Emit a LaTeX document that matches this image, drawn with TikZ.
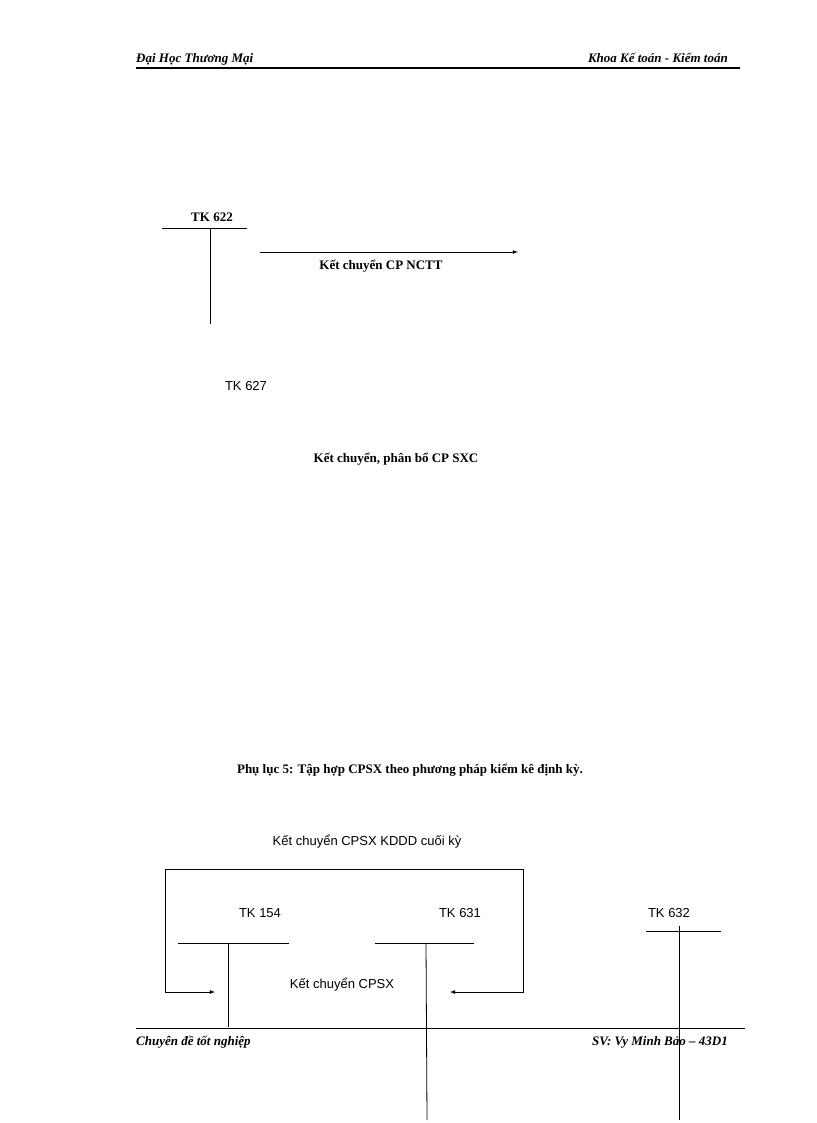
\documentclass[tikz,border=0pt]{standalone}
\usepackage{fontspec}
\setmainfont{Liberation Serif}
\newfontfamily\tah{Liberation Sans}
\begin{document}
\begin{tikzpicture}[x=1pt,y=-1pt,
  hd/.style={font=\bfseries\itshape\fontsize{13}{15}\selectfont,inner sep=0},
  bt/.style={font=\bfseries\fontsize{13}{15}\selectfont,inner sep=0},
  st/.style={font=\tah\fontsize{13}{15}\selectfont,inner sep=0},
  ln/.style={line width=0.8pt},
  ar/.style={ln,-latex}]
\useasboundingbox (0,0) rectangle (816,1123);
\node[hd,anchor=base west] (h1) at (136,63) {Đại Học Thương Mại};
\node[hd,anchor=base east] (h2) at (728,63) {Khoa Kế toán - Kiểm toán};
\draw[line width=1.5pt] (136,68) -- (740,68);
\node[bt] (t622) at (212,217) {TK 622};
\draw[ln] (162,228) -- (247,228);
\draw[ln] (210,228) -- (210,324);
\coordinate (a1) at (260,252); \coordinate (a2) at (518,252);
\draw[ar] (a1) -- (a2);
\node[bt] (l1) at (381,266) {Kết chuyển CP NCTT};
\node[st] (t627) at (246,386) {TK 627};
\node[bt] (l2) at (396,459) {Kết chuyển, phân bổ CP SXC};
\node[bt] (pl) at (410,770) {Phụ lục 5: Tập hợp CPSX theo phương pháp kiểm kê định kỳ.};
\node[st] (l3) at (367,842) {Kết chuyển CPSX KDDD cuối kỳ};
\coordinate (b1) at (215,992); \coordinate (b2) at (450,992);
\draw[ln,-latex] (165,992) -- (165,869) -- (523,869) -- (523,992) -- (b2);
\draw[ar] (165,992) -- (b1);
\node[st] (t154) at (260,913) {TK 154};
\draw[ln] (178,943) -- (289,943);
\draw[ln] (228,943) -- (228,1027);
\node[st] (t631) at (460,913) {TK 631};
\draw[ln] (375,943) -- (474,943);
\draw[ln] (426,943) -- (427,1120);
\node[st] (t632) at (669,913) {TK 632};
\draw[ln] (646,931) -- (721,931);
\draw[ln] (679,926) -- (679,1120);
\node[st] (l4) at (342,985) {Kết chuyển CPSX};
\draw[ln] (136,1028) -- (745,1028);
\node[hd,anchor=base west] (f1) at (136,1045) {Chuyên đề tốt nghiệp};
\node[hd,anchor=base east] (f2) at (728,1045) {SV: Vy Minh Bảo – 43D1};
\end{tikzpicture}
\end{document}
